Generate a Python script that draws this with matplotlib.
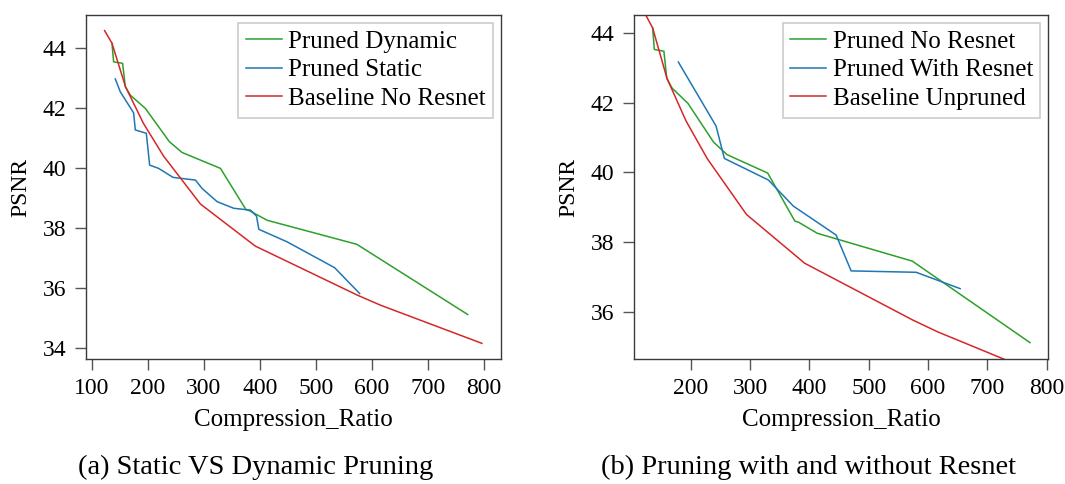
import matplotlib
matplotlib.use('Agg')
import matplotlib.pyplot as plt

plt.rcParams['font.family'] = ['Liberation Serif', 'DejaVu Serif']

GREEN = '#2ca02c'
BLUE = '#1f77b4'
RED = '#d62728'

# ── data ──────────────────────────────────────────────────────────────────────
# baseline (same curve in both panels)
base_x = [122.6, 135.8, 160, 192, 228, 294, 392, 574, 616, 797]
base_y = [44.57, 44.15, 42.70, 41.48, 40.39, 38.79, 37.39, 35.76, 35.42, 34.15]

# pruned without resnet / dynamic pruning (same curve in both panels)
dyn_x = [135.8, 138.7, 154.8, 159.6, 168.6, 195.4, 238.4, 261.1, 329.7,
         375.5, 381.5, 413.3, 573.5, 771.7]
dyn_y = [44.15, 43.53, 43.48, 42.70, 42.42, 41.98, 40.87, 40.51, 39.98,
         38.60, 38.57, 38.25, 37.45, 35.11]

# pruned static
static_x = [141.7, 150.7, 174.5, 177.5, 197.2, 203.1, 219.2, 245, 285, 296.9,
            323.8, 353.5, 383.4, 394.1, 398.3, 449.1, 533.8, 578.5]
static_y = [42.96, 42.53, 41.83, 41.26, 41.15, 40.09, 39.98, 39.68, 39.59, 39.31,
            38.87, 38.65, 38.59, 38.39, 37.95, 37.53, 36.67, 35.81]

# pruned with resnet
res_x = [179.1, 242.7, 256.7, 330.9, 373.0, 445.0, 470.3, 579.9, 654.1]
res_y = [43.17, 41.33, 40.40, 39.78, 39.03, 38.20, 37.17, 37.13, 36.66]

xticks_a = [100, 200, 300, 400, 500, 600, 700, 800]
yticks_a = [34, 36, 38, 40, 42, 44]
xticks_b = [200, 300, 400, 500, 600, 700, 800]
yticks_b = [36, 38, 40, 42, 44]

fig = plt.figure(figsize=(10.65, 4.84), dpi=100)
ax1 = fig.add_axes([0.0805, 0.2583, 0.3897, 0.7107])
ax2 = fig.add_axes([0.5953, 0.2583, 0.3887, 0.7107])


def style(ax, xticks, yticks):
    for s in ax.spines.values():
        s.set_color('#3a3a3a')
        s.set_linewidth(1.0)
    ax.set_xticks(xticks)
    ax.set_yticks(yticks)
    ax.tick_params(axis='both', length=8, width=1, color='#555555',
                   labelsize=17, pad=6)
    ax.set_xlabel('Compression_Ratio', fontsize=18, labelpad=7)
    ax.set_ylabel('PSNR', fontsize=17, labelpad=8)


def legend(ax):
    leg = ax.legend(loc='upper right', fontsize=18, handlelength=1.45,
                    handletextpad=0.25, labelspacing=0.25, borderpad=0.3,
                    borderaxespad=0.3, fancybox=False, framealpha=1)
    leg.get_frame().set_edgecolor('#cccccc')
    leg.get_frame().set_linewidth(1.2)


# (a)
ax1.plot(dyn_x, dyn_y, color=GREEN, lw=1.1, label='Pruned Dynamic')
ax1.plot(static_x, static_y, color=BLUE, lw=1.1, label='Pruned Static')
ax1.plot(base_x, base_y, color=RED, lw=1.1, label='Baseline No Resnet')
style(ax1, xticks_a, yticks_a)
legend(ax1)

# (b)
ax2.plot(dyn_x, dyn_y, color=GREEN, lw=1.1, label='Pruned No Resnet')
ax2.plot(res_x, res_y, color=BLUE, lw=1.1, label='Pruned With Resnet')
ax2.plot(base_x, base_y, color=RED, lw=1.1, label='Baseline Unpruned')
ax2.set_xlim(104.4, 802)
ax2.set_ylim(34.64, 44.52)
style(ax2, xticks_b, yticks_b)
legend(ax2)

fig.text(0.240, 0.034, '(a) Static VS Dynamic Pruning', fontsize=20.5,
         ha='center', va='center')
fig.text(0.759, 0.034, '(b) Pruning with and without Resnet', fontsize=20.5,
         ha='center', va='center')

fig.savefig('out.png', dpi=100)
